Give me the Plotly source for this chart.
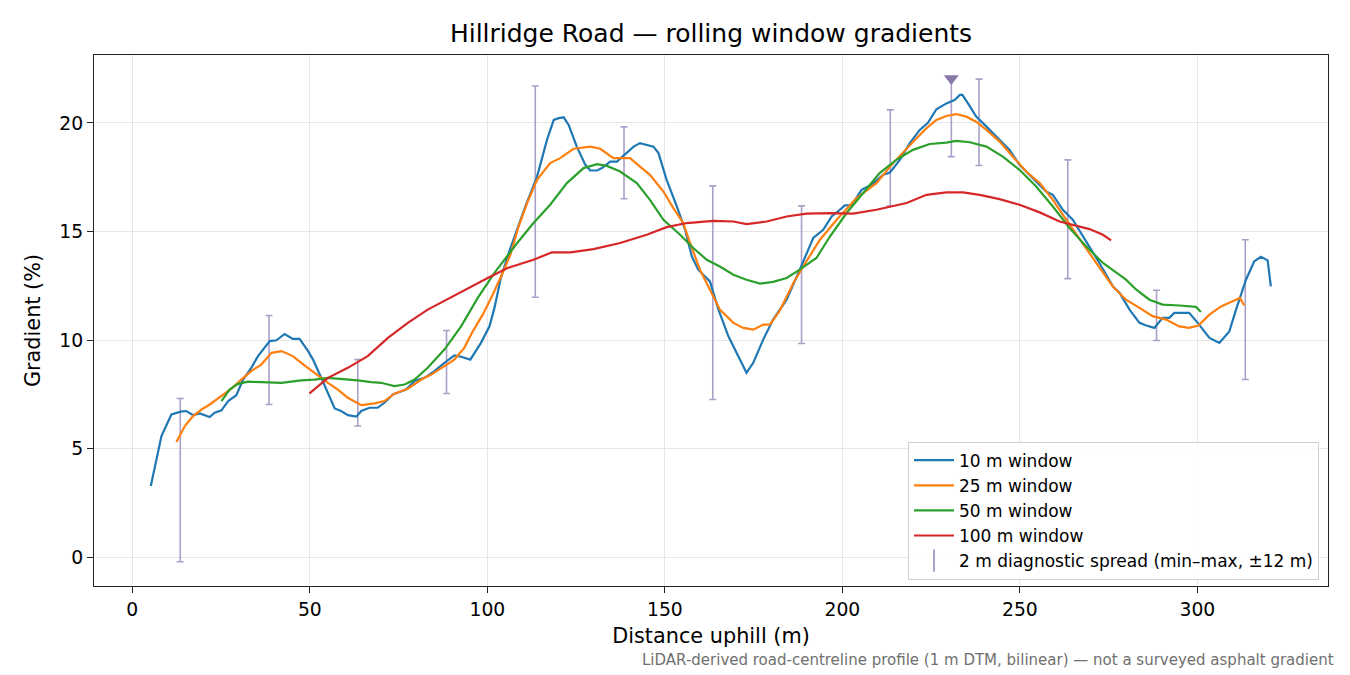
import plotly.graph_objects as go

# distance uphill (m) / gradient (%)
x_10 = [5.2, 8.2, 11, 13.6, 15.2, 17.1, 19, 21.8, 23.2, 25.1,
        27, 29.3, 31.2, 33.5, 35.4, 38.7, 40.6, 42.9, 45.2, 47.1,
        49.5, 50.9, 53.2, 55.1, 57, 58.8, 60.7, 63.1, 64.5, 66.8,
        69.1, 71, 73.4, 77.1, 79.5, 82.3, 85.1, 87.9, 90.7, 92.6,
        95.2, 98.2, 100.6, 102, 103.8, 106.2, 110.7, 114, 116.8, 118.7,
        120.1, 121.5, 122.9, 125.2, 127.6, 129, 130.9, 132.3, 134.6, 136.5,
        139.3, 141.2, 143, 144.9, 146.8, 148.2, 150.5, 153.4, 155.7, 157.6,
        159.4, 162.7, 165.1, 167.9, 170.2, 173, 174.9, 177.7, 180.5, 184.3,
        188, 191.8, 194.6, 197, 199.3, 200.7, 202.6, 205.4, 208.2, 211.5,
        213.4, 216.2, 219, 221.8, 224.1, 226.5, 229.3, 231.6, 233.1, 233.8,
        235.4, 237.7, 240.6, 243.4, 247.1, 249.9, 253.7, 257.4, 259.3, 262.1,
        264.9, 268.7, 272.4, 276.2, 278.1, 280.9, 283.7, 285.6, 287.9, 290.2,
        292.1, 293.5, 295.9, 297.7, 300.1, 303.4, 306.2, 309, 310.9, 313.7,
        316, 317.9, 319.8, 320.7]
g_10 = [3.28, 5.58, 6.57, 6.70, 6.73, 6.54, 6.62, 6.45, 6.65, 6.76,
        7.19, 7.46, 8.18, 8.72, 9.26, 9.95, 9.99, 10.28, 10.05, 10.05,
        9.49, 9.10, 8.26, 7.57, 6.85, 6.73, 6.54, 6.47, 6.73, 6.88,
        6.88, 7.11, 7.49, 7.72, 8.11, 8.26, 8.57, 8.95, 9.29, 9.23,
        9.10, 9.87, 10.63, 11.48, 12.86, 14.10, 16.15, 17.53, 19.22, 20.14,
        20.22, 20.26, 19.91, 18.91, 18.07, 17.81, 17.81, 17.92, 18.22, 18.22,
        18.64, 18.91, 19.07, 18.99, 18.91, 18.61, 17.38, 16.15, 15.08, 13.85,
        13.24, 12.70, 11.40, 10.17, 9.41, 8.49, 8.95, 10.02, 10.94, 11.86,
        13.24, 14.70, 15.08, 15.69, 16.0, 16.2, 16.2, 16.92, 17.15, 17.61,
        17.72, 18.30, 19.07, 19.68, 20.01, 20.63, 20.90, 21.06, 21.29, 21.29,
        20.90, 20.29, 19.83, 19.37, 18.76, 18.07, 17.46, 16.84, 16.69, 16.0,
        15.54, 14.54, 13.55, 12.47, 12.17, 11.40, 10.79, 10.67, 10.56, 11.02,
        11.02, 11.25, 11.25, 11.25, 10.79, 10.10, 9.87, 10.4, 11.4, 12.78,
        13.62, 13.83, 13.67, 12.47]

x_25 = [12.4, 14.8, 17.1, 19.5, 21.8, 24.6, 27.9, 30.7, 33.5, 36.3,
        39.2, 42, 45.2, 48.5, 51.8, 55.1, 57.9, 60.7, 64.5, 68.2,
        71, 73.8, 77.6, 81.4, 84.2, 87.9, 90.7, 93.5, 95.9, 98.7,
        101.5, 104.3, 106.5, 108.8, 111.2, 114, 117.7, 120.5, 124.3, 129,
        131.8, 135.5, 140.2, 143, 145.8, 149.6, 152.4, 155.2, 157.1, 159.9,
        162.7, 165.5, 169.3, 172.1, 174.9, 177.7, 179.6, 182.4, 186.2, 189,
        193.7, 198.4, 204, 209.6, 214.3, 218.1, 220.9, 223.7, 226.5, 229.3,
        232.1, 234.9, 237.7, 240.6, 244.3, 248, 251.8, 255.6, 259.3, 263.1,
        266.9, 271.5, 276.2, 279.9, 283.7, 287.4, 291.2, 294.9, 297.7, 300.3,
        303.4, 306.7, 309.9, 312, 313.2]
g_25 = [5.30, 6.04, 6.50, 6.80, 7.03, 7.37, 7.76, 8.18, 8.57, 8.87,
        9.41, 9.49, 9.26, 8.83, 8.41, 8.03, 7.72, 7.34, 7.0, 7.08,
        7.19, 7.53, 7.76, 8.18, 8.41, 8.80, 9.10, 9.64, 10.40, 11.17,
        12.09, 13.09, 13.93, 15.23, 16.31, 17.38, 18.15, 18.38, 18.81, 18.91,
        18.81, 18.38, 18.38, 17.99, 17.61, 16.84, 16.08, 15.39, 14.47, 13.24,
        12.32, 11.40, 10.79, 10.56, 10.48, 10.71, 10.71, 11.36, 12.63, 13.40,
        14.62, 15.54, 16.54, 17.23, 18.15, 18.84, 19.30, 19.76, 20.14, 20.32,
        20.41, 20.29, 20.06, 19.68, 19.14, 18.45, 17.76, 17.23, 16.46, 15.54,
        14.62, 13.55, 12.47, 11.86, 11.48, 11.10, 10.94, 10.63, 10.56, 10.67,
        11.17, 11.55, 11.79, 11.94, 11.59]

x_50 = [25.1, 27.4, 29.8, 32.6, 36.3, 42, 47.6, 51.3, 55.1, 58.8,
        63.5, 67.3, 70.1, 72, 73.8, 76.7, 79.5, 83.2, 87.9, 92.6,
        97.3, 102, 105.7, 108.4, 113, 117.7, 122.4, 127.1, 130.9, 133.7,
        137.4, 142.1, 145.8, 149.6, 154.3, 158, 161.8, 165.5, 169.3, 173,
        176.8, 180.5, 184.3, 188, 192.7, 196.5, 201.2, 205.9, 210.5, 215.2,
        219.9, 224.6, 229.3, 232.1, 235.9, 240.6, 245.2, 249.9, 254.6, 259.3,
        264, 268.7, 273.4, 279.9, 282.8, 286.5, 290.2, 294.9, 299.6, 301]
g_50 = [7.19, 7.72, 7.98, 8.08, 8.06, 8.03, 8.14, 8.18, 8.26, 8.22,
        8.14, 8.06, 8.03, 7.95, 7.88, 7.95, 8.18, 8.72, 9.56, 10.63,
        11.94, 13.09, 13.9, 14.47, 15.39, 16.23, 17.23, 17.92, 18.10, 18.02,
        17.76, 17.23, 16.46, 15.54, 14.85, 14.24, 13.70, 13.39, 13.01, 12.78,
        12.60, 12.68, 12.86, 13.24, 13.78, 14.77, 15.85, 16.77, 17.69, 18.30,
        18.76, 19.03, 19.09, 19.17, 19.11, 18.91, 18.45, 17.84, 17.07, 16.15,
        15.16, 14.31, 13.55, 12.78, 12.32, 11.86, 11.63, 11.59, 11.53, 11.29]

x_100 = [49.9, 55.1, 60.7, 66.3, 72, 77.6, 83.2, 88.8, 94.5, 100.1,
         105.7, 113, 118.2, 123.4, 129.9, 137.4, 144.9, 150.5, 156.2, 163.7,
         169.3, 173, 178.7, 184.3, 189.9, 196.5, 203, 209.6, 218.1, 223.7,
         229.3, 234, 238.7, 244.3, 249.9, 255.6, 261.2, 264.9, 269.6, 273.4,
         275.7]
g_100 = [7.54, 8.26, 8.72, 9.26, 10.10, 10.79, 11.40, 11.89, 12.40, 12.86,
         13.32, 13.70, 14.04, 14.04, 14.19, 14.47, 14.85, 15.20, 15.39, 15.49,
         15.46, 15.34, 15.46, 15.69, 15.82, 15.85, 15.82, 16.0, 16.31, 16.69,
         16.80, 16.80, 16.69, 16.49, 16.23, 15.88, 15.46, 15.31, 15.11, 14.85,
         14.59]

# 2 m diagnostic spread (min-max within +-12 m)
spread_x = [13.5, 38.5, 63.5, 88.5, 113.5, 138.5, 163.5, 188.5, 213.5, 230.7,
            238.5, 263.5, 288.5, 313.5]
spread_lo = [-0.21, 7.03, 6.04, 7.54, 11.97, 16.51, 7.26, 9.84, 16.18, 18.45,
             18.04, 12.83, 9.98, 8.18]
spread_hi = [7.31, 11.13, 9.10, 10.44, 21.70, 19.82, 17.10, 16.18, 20.60, 22.05,
             22.02, 18.30, 12.29, 14.62]

peak_x = [230.7]
peak_g = [22.05]

windows = [
    ("10 m window", x_10, g_10, "#1f77b4"),
    ("25 m window", x_25, g_25, "#ff7f0e"),
    ("50 m window", x_50, g_50, "#2ca02c"),
    ("100 m window", x_100, g_100, "#d62728"),
]

spread_col = "#ab9fc8"
font = "DejaVu Sans"

fig = go.Figure()

# spread bars first so the lines sit on top
fig.add_trace(go.Scatter(
    x=spread_x, y=spread_lo, mode="markers",
    marker=dict(size=1, opacity=0),
    error_y=dict(type="data", symmetric=False,
                 array=[h - l for h, l in zip(spread_hi, spread_lo)],
                 arrayminus=[0] * len(spread_lo),
                 color=spread_col, thickness=1.6, width=3.5),
    showlegend=False, hoverinfo="skip"))

for name, xs, ys, col in windows:
    fig.add_trace(go.Scatter(x=xs, y=ys, mode="lines", name=name,
                             line=dict(color=col, width=2.2)))

# legend-only entry for the spread bars
fig.add_trace(go.Scatter(
    x=[None], y=[None], mode="markers",
    name="2 m diagnostic spread (min\u2013max, \u00b112 m)",
    marker=dict(symbol="line-ns-open", size=16, color=spread_col,
                line=dict(color=spread_col, width=2))))

fig.add_trace(go.Scatter(
    x=peak_x, y=peak_g, mode="markers",
    marker=dict(symbol="triangle-down", size=13, color="#8878a8"),
    showlegend=False))

fig.update_layout(
    width=1350, height=675,
    margin=dict(l=94, r=22, t=55, b=89),
    paper_bgcolor="white", plot_bgcolor="white",
    font=dict(family=font, size=18.75, color="black"),
    title=dict(text="Hillridge Road \u2014 rolling window gradients",
               x=0.5, xref="paper", y=0.951, yanchor="middle",
               font=dict(size=25, color="black")),
    legend=dict(x=0.9927, y=0.012, xanchor="right", yanchor="bottom",
                bgcolor="rgba(255,255,255,0.85)", bordercolor="#d0d0d0",
                borderwidth=1, font=dict(size=17), tracegroupgap=0,
                itemwidth=40),
    showlegend=True,
)

axis_style = dict(showline=True, linecolor="#222", linewidth=1.3, mirror=True,
                  ticks="outside", ticklen=6, tickwidth=1.2, tickcolor="#222",
                  showgrid=True, gridcolor="#e6e6e6", gridwidth=1.2,
                  zeroline=False, tickfont=dict(size=18.75))

fig.update_xaxes(range=[-10.8, 336.8], tickvals=[0, 50, 100, 150, 200, 250, 300],
                 title=dict(text="Distance uphill (m)", standoff=9,
                            font=dict(size=20.8)),
                 **axis_style)
fig.update_yaxes(range=[-1.33, 23.13], tickvals=[0, 5, 10, 15, 20],
                 title=dict(text="Gradient (%)", standoff=12,
                            font=dict(size=20.8)),
                 **axis_style)

fig.add_annotation(
    text="LiDAR-derived road-centreline profile (1 m DTM, bilinear) \u2014 not a surveyed asphalt gradient",
    xref="paper", yref="paper", x=1.0065, y=-0.139,
    xanchor="right", yanchor="middle", showarrow=False,
    font=dict(size=15, color="#707070"))

fig.write_html("out.html", config={"displayModeBar": False},
               post_script="document.body.style.margin='0';")
